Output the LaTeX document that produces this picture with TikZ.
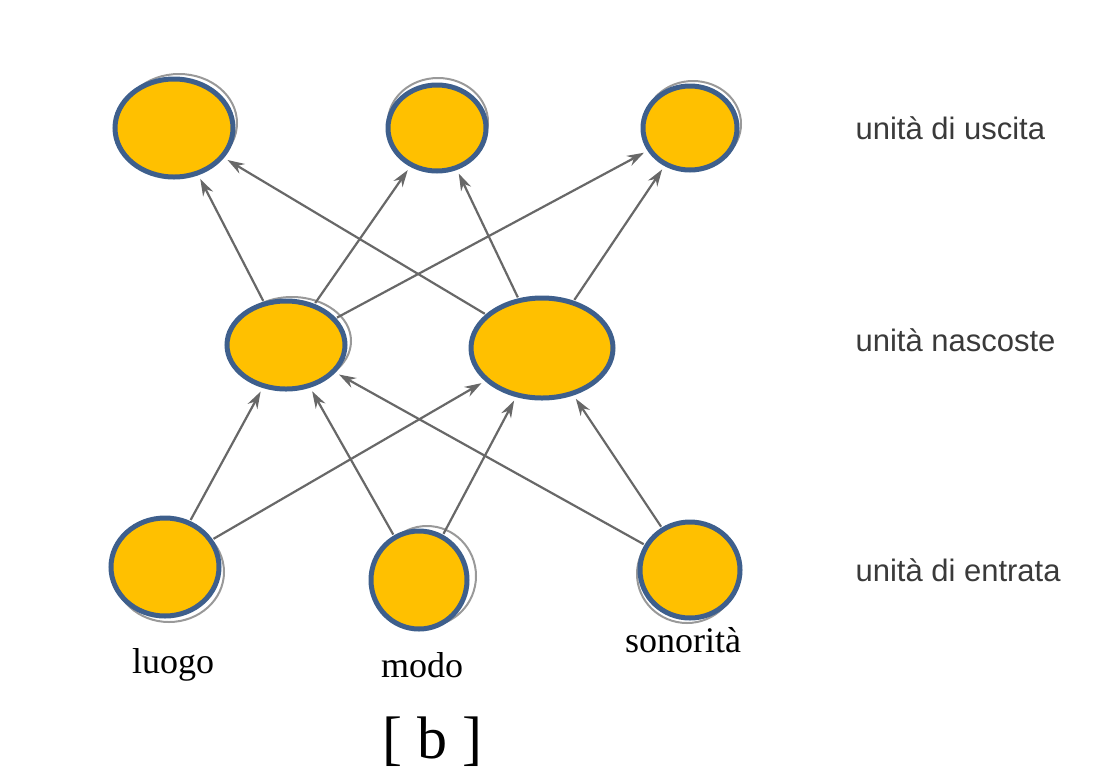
\documentclass[tikz,border=0pt]{standalone}
\usepackage{fontspec}
\setmainfont{Liberation Serif}
\newfontfamily\labelfont{Liberation Sans}
\usetikzlibrary{shapes.geometric,arrows.meta}
\definecolor{unitfill}{HTML}{FFC000}
\definecolor{unitborder}{HTML}{3E5F8C}
\definecolor{linkgray}{HTML}{686868}
\definecolor{textgray}{HTML}{3A3A3A}
\begin{document}
\begin{tikzpicture}[x=1pt,y=-1pt,
  unit/.style={ellipse,draw=unitborder,fill=unitfill,line width=5pt,inner sep=0pt},
  ghost/.style={ellipse,draw=gray!80,line width=2pt,inner sep=0pt},
  link/.style={draw=linkgray,line width=2.2pt,-{Stealth[length=17pt,width=11pt]},shorten >=4pt,shorten <=1pt},
  sidelabel/.style={font=\labelfont\fontsize{31}{36}\selectfont,text=textgray,anchor=west},
  namelabel/.style={font=\fontsize{36}{42}\selectfont}]
\useasboundingbox (0,0) rectangle (1118,780);
% faint duplicate outlines of the scan
\node[ghost,minimum width=116pt,minimum height=98pt] at (179,123) {};
\node[ghost,minimum width=100pt,minimum height=88pt] at (438,122) {};
\node[ghost,minimum width=96pt,minimum height=86pt] at (693,124) {};
\node[ghost,minimum width=118pt,minimum height=88pt] at (292,341) {};
\node[ghost,minimum width=110pt,minimum height=100pt] at (169,572) {};
\node[ghost,minimum width=98pt,minimum height=100pt] at (427,576) {};
\node[ghost,minimum width=100pt,minimum height=98pt] at (687,574) {};
% units
\node[unit,minimum width=118pt,minimum height=98pt] (o1) at (174,128) {};
\node[unit,minimum width=98pt,minimum height=86pt] (o2) at (437,128) {};
\node[unit,minimum width=94pt,minimum height=84pt] (o3) at (690,128) {};
\node[unit,minimum width=118pt,minimum height=88pt] (h1) at (286,345) {};
\node[unit,minimum width=142pt,minimum height=100pt] (h2) at (542,348) {};
\node[unit,minimum width=108pt,minimum height=98pt] (i1) at (165,567) {};
\node[unit,minimum width=96pt,minimum height=98pt] (i2) at (419,580) {};
\node[unit,minimum width=100pt,minimum height=96pt] (i3) at (690,570) {};
% connections
\foreach \s in {i1,i2,i3}{\foreach \t in {h1,h2}{\draw[link] (\s) -- (\t);}}
\foreach \s in {h1,h2}{\foreach \t in {o1,o2,o3}{\draw[link] (\s) -- (\t);}}
% labels
\node[namelabel] (l1) at (173,665) {luogo};
\node[namelabel] (l2) at (422,665) {modo};
\node[namelabel] (l3) at (683,640) {sonorità};
\node[font=\fontsize{60}{66}\selectfont] (cap) at (432,742) {[ b ]};
\node[sidelabel] (s1) at (852,128) {unità di uscita};
\node[sidelabel] (s2) at (852,340) {unità nascoste};
\node[sidelabel] (s3) at (852,570) {unità di entrata};
\end{tikzpicture}
\end{document}
